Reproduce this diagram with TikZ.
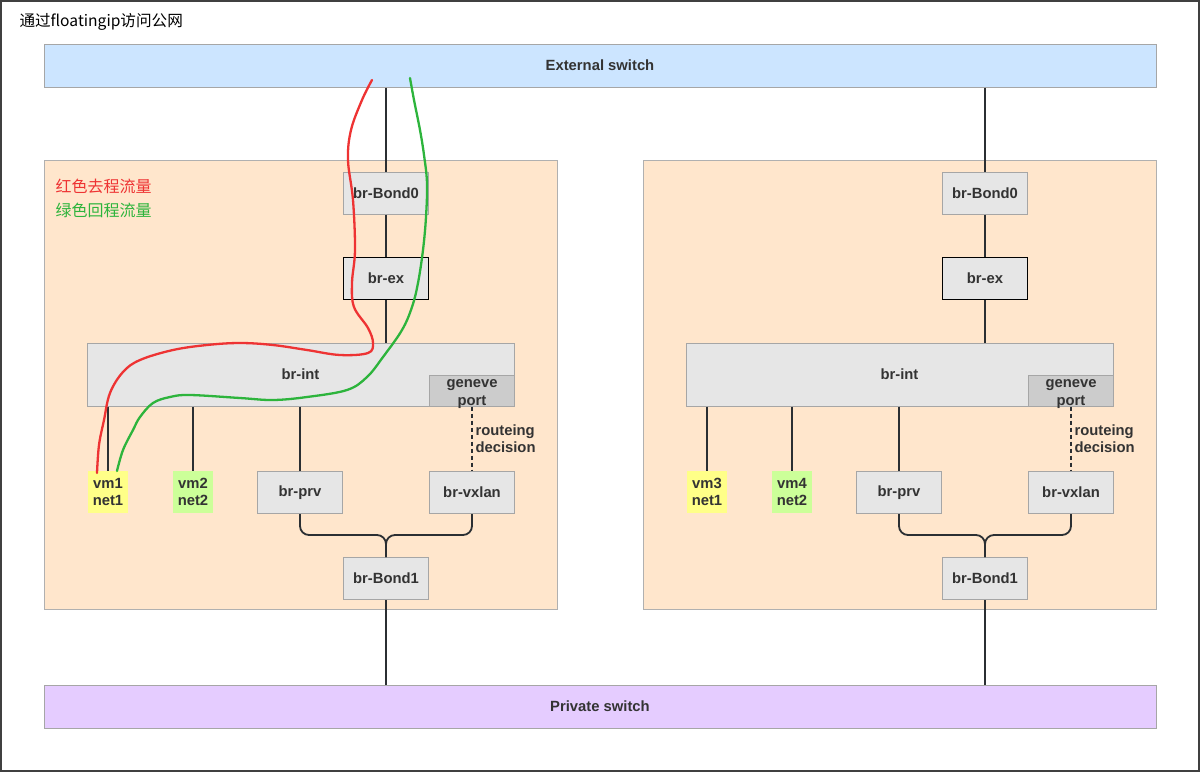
\documentclass[tikz,border=0pt]{standalone}
\usepackage{fontspec}
\setmainfont{Liberation Sans}
\newfontfamily\cjk{Noto Sans CJK SC}
\definecolor{hostfill}{HTML}{FFE6CC}
\definecolor{hostline}{HTML}{B0B0B0}
\definecolor{extfill}{HTML}{CCE5FF}
\definecolor{privfill}{HTML}{E5CCFF}
\definecolor{boxfill}{HTML}{E6E6E6}
\definecolor{boxline}{HTML}{A6A6A6}
\definecolor{portfill}{HTML}{CCCCCC}
\definecolor{net1fill}{HTML}{FFFF88}
\definecolor{net2fill}{HTML}{CCFF99}
\definecolor{txt}{HTML}{333333}
\definecolor{wire}{HTML}{2B2F33}
\definecolor{redflow}{HTML}{EE3333}
\definecolor{greenflow}{HTML}{2DB43C}
\begin{document}
\begin{tikzpicture}[x=1pt,y=-1pt,
  lbl/.style={font=\fontsize{14.8}{17}\selectfont\bfseries, text=txt, align=center},
  switchbar/.style={lbl, draw=boxline, line width=1pt, minimum width=1112, minimum height=43, inner sep=0},
  hostbox/.style={draw=hostline, fill=hostfill, line width=1pt, minimum width=513, minimum height=449, inner sep=0},
  bridge/.style={lbl, draw=boxline, fill=boxfill, line width=1pt, minimum width=85, minimum height=42, inner sep=0},
  vmbox/.style={lbl, minimum width=40, minimum height=42, inner sep=0},
  wirestyle/.style={draw=wire, line width=1.8pt},
  flow/.style={line width=2.3pt, line cap=round, line join=round}]

% page and outer frame
\useasboundingbox (0,0) rectangle (1200,772);
\draw[draw=black!75, line width=2pt] (1,1) rectangle (1199,771);

\node[anchor=west, font=\cjk\fontsize{15.6}{18}\selectfont, text=black] (title) at (16,22) {通过floatingip访问公网};

% shared switches
\node[switchbar, fill=extfill] (ext) at (600,65.5) {External switch};
\node[switchbar, fill=privfill] (priv) at (600,706.5) {Private switch};

% two compute hosts
\foreach \h/\dx/\va/\vb in {L/0/vm1/vm2, R/599/vm3/vm4} {
  \begin{scope}[xshift=\dx]
    \node[hostbox] (\h-host) at (300.5,384.5) {};
    \node[bridge] (\h-bond0) at (386,193) {br-Bond0};
    \node[bridge, draw=black] (\h-brex) at (386,278.5) {br-ex};
    \node[bridge, minimum width=427, minimum height=63] (\h-brint) at (300.5,374.5) {br-int};
    \node[bridge, fill=portfill, minimum width=85, minimum height=31] (\h-geneve) at (472,390.5) {};
    \node[lbl, inner sep=0, font=\fontsize{14.8}{17.5}\selectfont\bfseries] (\h-genevetxt) at ([yshift=-3.5pt]\h-geneve.center) {geneve\\port};
    \node[vmbox, fill=net1fill] (\h-vma) at (108,492) {\va\\net1};
    \node[vmbox, fill=net2fill] (\h-vmb) at (193,492) {\vb\\net2};
    \node[bridge] (\h-prv) at (300,492.5) {br-prv};
    \node[bridge] (\h-vxlan) at (472,492.5) {br-vxlan};
    \node[bridge] (\h-bond1) at (386,578.5) {br-Bond1};
    \node[lbl, align=left, anchor=west] (\h-route) at (472,439) {routeing\\decision};
  \end{scope}

  % uplinks
  \draw[wirestyle] (ext.south -| \h-bond0.north) -- (\h-bond0.north);
  \draw[wirestyle] (\h-bond0.south) -- (\h-brex.north);
  \draw[wirestyle] (\h-brex.south) -- (\h-brint.north -| \h-brex.south);
  % br-int ports
  \draw[wirestyle] (\h-vma.north |- \h-brint.south) -- (\h-vma.north);
  \draw[wirestyle] (\h-vmb.north |- \h-brint.south) -- (\h-vmb.north);
  \draw[wirestyle] (\h-prv.north |- \h-brint.south) -- (\h-prv.north);
  \draw[draw=wire, line width=1.8pt, dash pattern=on 4pt off 3pt] (\h-geneve.south) -- (\h-vxlan.north);
  % bond1 fan-in
  \draw[wirestyle, rounded corners=9pt] (\h-prv.south) |- ([yshift=22pt]\h-bond1.north) -- (\h-bond1.north);
  \draw[wirestyle, rounded corners=9pt] (\h-vxlan.south) |- ([yshift=22pt]\h-bond1.north) -- (\h-bond1.north);
  \draw[wirestyle] (\h-bond1.south) -- (priv.north -| \h-bond1.south);
}

% legend
\node[anchor=west, font=\cjk\fontsize{16}{19}\selectfont, text=redflow] (legred) at (52,186) {红色去程流量};
\node[anchor=west, font=\cjk\fontsize{16}{19}\selectfont, text=greenflow] (leggreen) at (52,210) {绿色回程流量};

% outbound traffic (red)
\draw[flow, draw=redflow] plot[smooth, tension=0.6] coordinates {
  (372,80) (362,100) (351,130) (348,160) (353,200) (355,250) (352,283)
  (354,307) (368,328) (373,343) (368,353) (340,355) (307,350) (273,345)
  (240,343) (207,345) (173,350) (140,360) (123,372) (110,393) (104,420)
  (99,445) (97,473)};

% return traffic (green)
\draw[flow, draw=greenflow] plot[smooth, tension=0.6] coordinates {
  (410,78) (414,100) (420,130) (424,155) (427,183) (426,217) (423,250)
  (418,283) (412,307) (402,330) (383,357) (367,377) (347,390) (307,397)
  (273,400) (240,398) (190,395) (170,397) (153,403) (140,417) (133,430)
  (123,450) (117,471)};
\end{tikzpicture}
\end{document}
